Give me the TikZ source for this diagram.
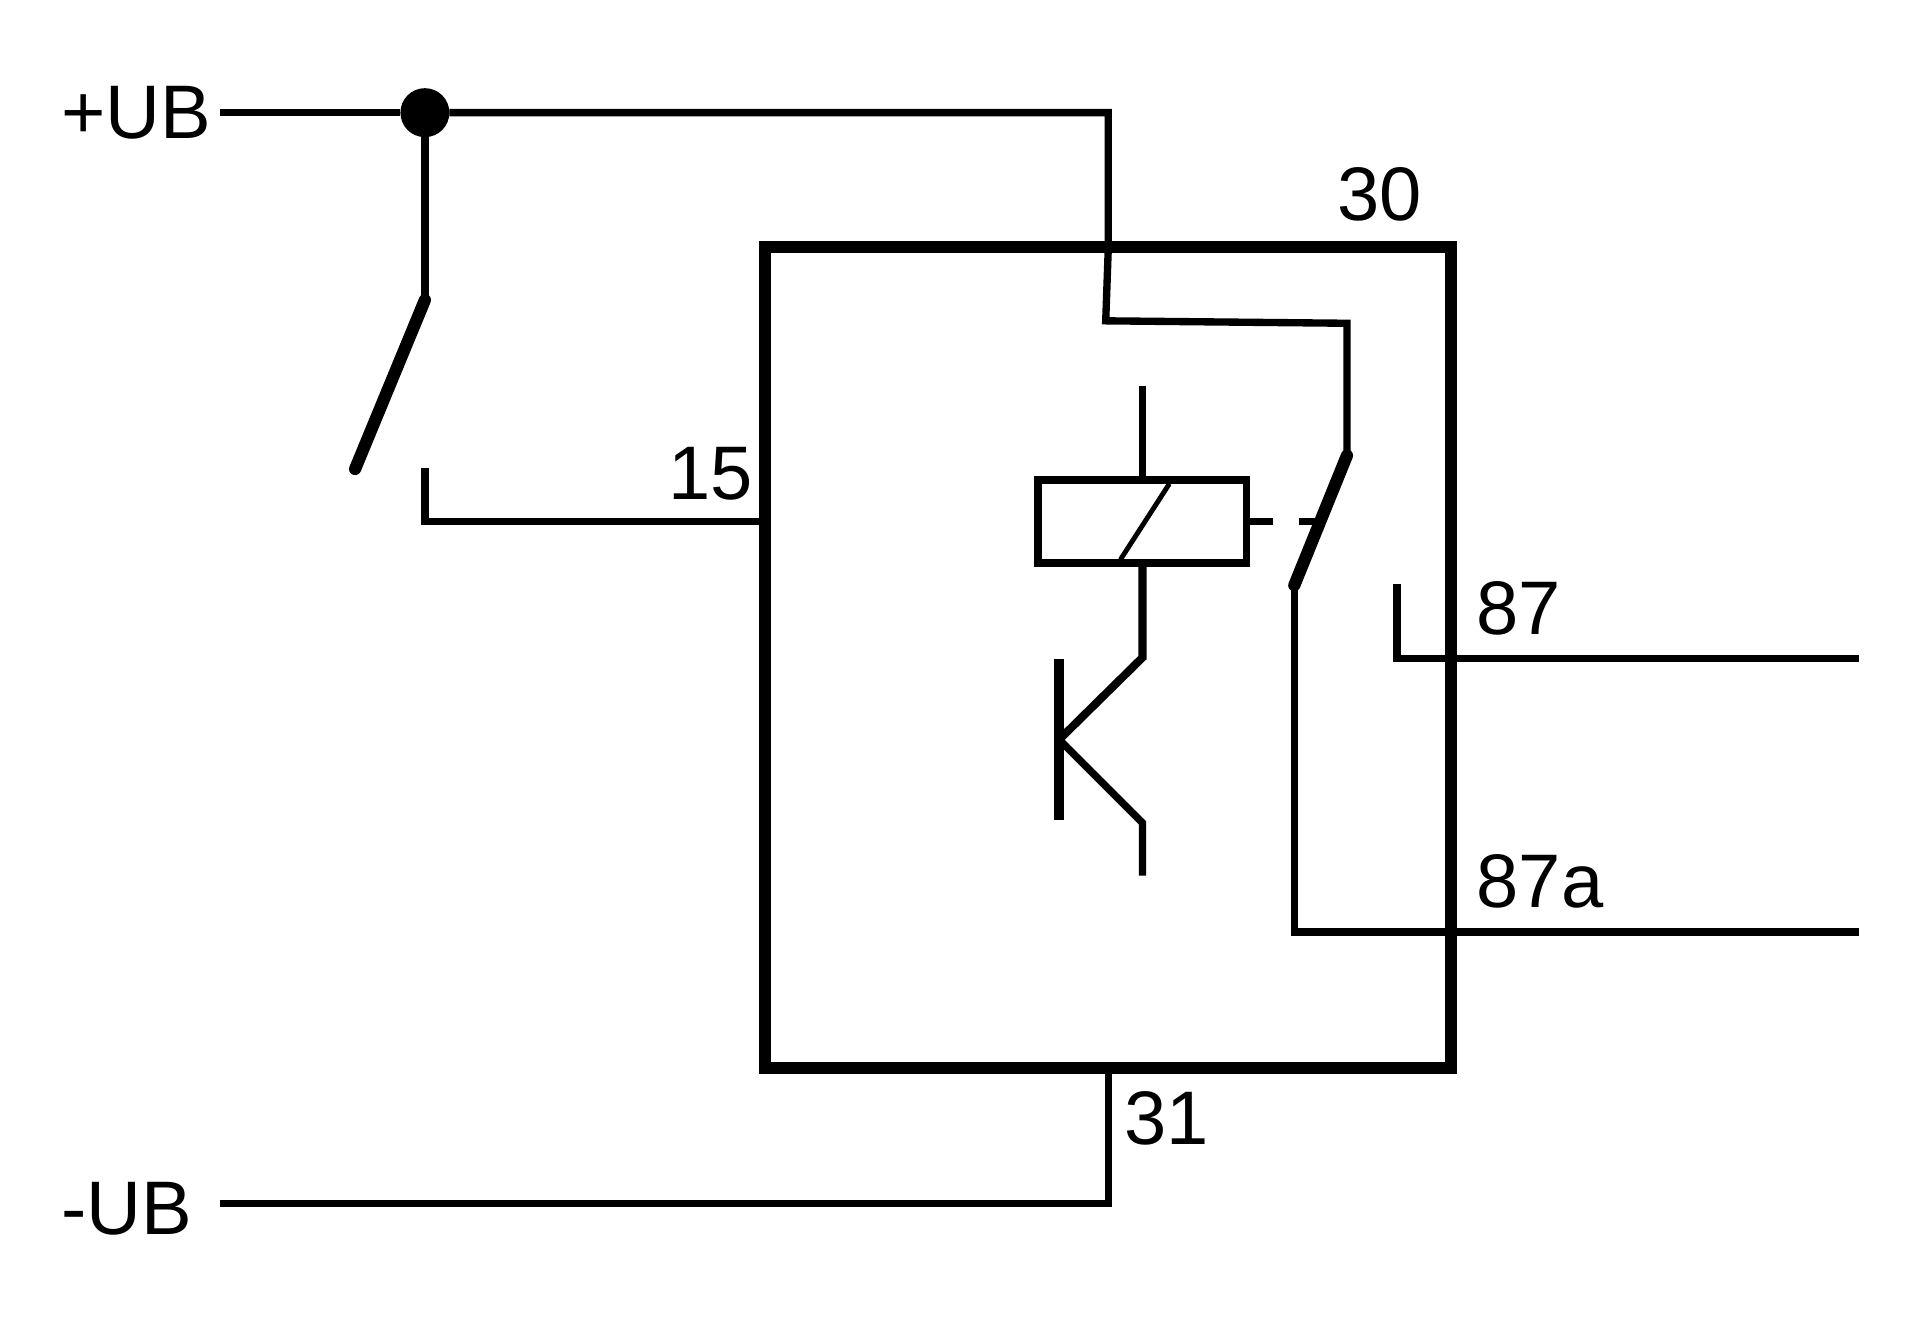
\documentclass[tikz,border=0pt]{standalone}
\usepackage{fontspec}
\setmainfont{Liberation Sans}
\tikzset{
  wire/.style={line width=3pt,line join=miter},
  blade/.style={line width=5pt,line cap=round},
  boxline/.style={draw,line width=5pt,inner sep=0pt,outer sep=0pt},
  coilbox/.style={draw,fill=none,line width=3.2pt,inner sep=0pt,outer sep=0pt},
  lbl/.style={inner sep=0pt,outer sep=0pt,anchor=base west,font=\fontsize{31pt}{34pt}\selectfont},
  junction/.style={circle,fill=black,draw=none,minimum size=20pt,inner sep=0pt,outer sep=0pt}
}
\begin{document}
\begin{tikzpicture}[x=0.5pt,y=-0.5pt]
\useasboundingbox (0,0) rectangle (1568,1077);
% main shapes
\node[boxline,minimum width=280pt,minimum height=335pt] (relay) at (905,537) {};
\node[coilbox,minimum width=85pt,minimum height=34pt] (coil) at (933,426) {};
\node[junction] (dot) at (347,92) {};
% named points
\coordinate (ubp) at (180,92);
\coordinate (c1) at (905,92);
\coordinate (c2) at (903,262);
\coordinate (c3) at (1100,264);
\coordinate (k1) at (1100,372);
\coordinate (k2) at (1057,478);
\coordinate (s1) at (347,245);
\coordinate (s2) at (290,383);
\coordinate (s3) at (347,382);
\coordinate (s4) at (347,426);
\coordinate (t15) at (625,426);
\coordinate (ct) at (933,315);
\coordinate (cb) at (933,537);
\coordinate (b) at (865,604);
\coordinate (e) at (933,672);
\coordinate (ee) at (933,715);
\coordinate (bt) at (865,538);
\coordinate (bb) at (865,670);
\coordinate (n1) at (1141,477);
\coordinate (n2) at (1141,538);
\coordinate (n3) at (1518,538);
\coordinate (m2) at (1057,761);
\coordinate (m3) at (1518,761);
\coordinate (g1) at (905,872);
\coordinate (g2) at (905,983);
\coordinate (ubm) at (180,983);
% wires
\draw[wire] (ubp) -- (dot);
\draw[wire] (dot) -- (c1) -- (905,205) -- (c2) -- (c3) -- (k1);
\draw[wire] (dot) -- (s1);
\draw[blade] (s1) -- (s2);
\draw[wire] (s3) -- (s4) -- (t15);
\draw[wire] (ct) -- (coil.north -| ct);
\draw[line width=3.3pt,line join=miter] (coil.south -| cb) -- (cb) -- (b);
\draw[wire] (b) -- (e) -- (ee);
\draw[line width=4.2pt] (bt) -- (bb);
\draw[line width=2pt] (955,395) -- (915,457);
\draw[wire] (coil.east) -- (1040,426);
\draw[wire] (1061,426) -- (1076,426);
\draw[blade] (k1) -- (k2);
\draw[wire] (k2) -- (m2) -- (m3);
\draw[wire] (n1) -- (n2) -- (n3);
\draw[wire] (g1) -- (g2) -- (ubm);
% labels
\node[lbl] (lubp) at (50,113) {+UB};
\node[lbl] (lubm) at (50,1008) {-UB};
\node[lbl] (l30) at (1092,180) {30};
\node[lbl] (l15) at (546,408) {15};
\node[lbl] (l87) at (1206,518) {87};
\node[lbl] (l87a) at (1206,741) {87a};
\node[lbl] (l31) at (918,935) {31};
\end{tikzpicture}
\end{document}
